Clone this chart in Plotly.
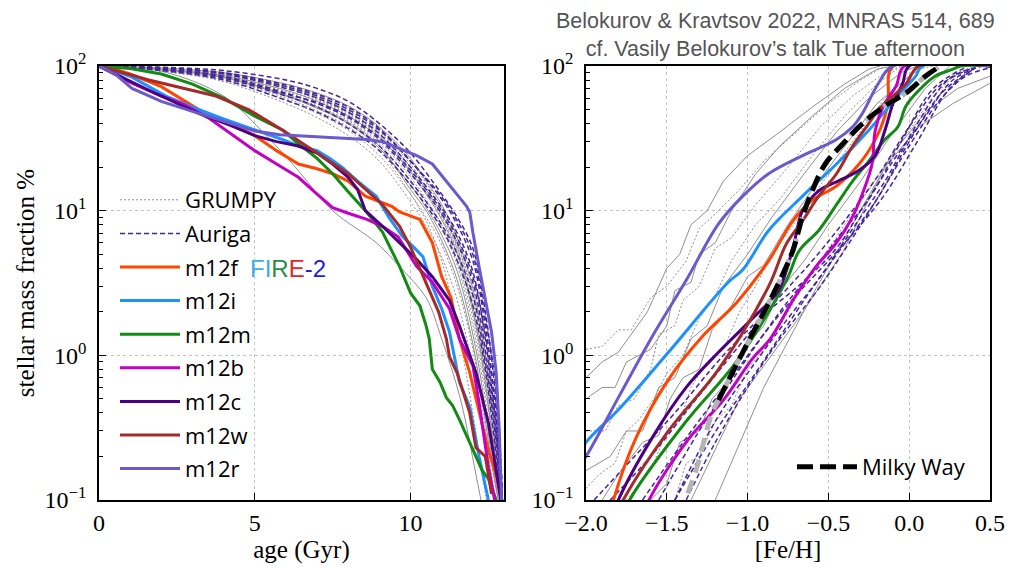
import plotly.graph_objects as go

# ---------------------------------------------------------------------------
# Cumulative stellar mass fraction (%) versus stellar age (Gyr)
# ---------------------------------------------------------------------------
age_m12f = [0, 0.5, 1, 2, 3.2, 4, 5.0, 5.7, 6.4, 7.0, 7.5, 8.0, 8.55, 9.0, 9.4, 9.65, 10.0, 10.3, 10.7, 11.0, 11.3, 11.57, 11.9, 12.1, 12.3, 12.5, 12.75, 12.9]
val_m12f = [100, 95, 88, 72, 50, 42, 33, 26, 21, 19.5, 18, 16, 12.6, 11.5, 10.7, 9.8, 9.2, 8.7, 6.0, 3.5, 2.5, 1.3, 0.76, 0.5, 0.34, 0.22, 0.15, 0.1]

age_m12i = [0, 1, 2.15, 3, 4, 5.0, 5.9, 6.4, 7.0, 7.4, 7.8, 8.3, 8.9, 9.3, 9.75, 10.1, 10.4, 10.7, 11.0, 11.25, 11.57, 11.9, 12.2, 12.5]
val_m12i = [100, 85, 62, 52, 43, 36, 31, 28, 26, 23, 20, 16, 12.6, 9, 6.6, 5.6, 4.8, 3.0, 2.1, 1.45, 0.65, 0.44, 0.2, 0.1]

age_m12m = [0, 1, 2, 3, 4, 5.0, 5.9, 6.4, 7.0, 7.5, 8.0, 8.55, 9.1, 9.65, 10.0, 10.3, 10.5, 10.6, 10.7, 10.95, 11.15, 11.35, 11.57, 11.8, 12.0, 12.3, 12.5, 12.75]
val_m12m = [100, 96, 88, 75, 60, 45, 36, 29, 23, 18, 13.5, 10, 7.1, 4.1, 2.7, 2.2, 1.6, 1.3, 0.8, 0.65, 0.51, 0.45, 0.36, 0.28, 0.22, 0.16, 0.14, 0.1]

age_m12b = [0, 1.06, 2, 2.66, 3.5, 4.3, 5.0, 5.7, 6.4, 7.0, 7.5, 8.0, 8.6, 9.1, 9.6, 10.2, 10.7, 11.25, 11.57, 12.0, 12.2, 12.5, 12.7]
val_m12b = [100, 76, 62, 55, 44, 33, 26, 21, 17, 13, 10.5, 9.6, 8.7, 7.8, 6.6, 4.1, 3.2, 2.1, 1.3, 0.85, 0.47, 0.17, 0.1]

age_m12c = [0, 1.6, 3.2, 4.2, 5.0, 5.7, 6.4, 7.0, 7.5, 8.0, 8.3, 8.55, 9.1, 9.65, 10.2, 10.7, 11.25, 11.57, 11.9, 12.1, 12.5, 12.9]
val_m12c = [100, 68, 47, 39, 33, 30, 28, 25, 21, 17, 14, 10, 7.8, 6.0, 4.6, 3.5, 2.4, 1.6, 1.0, 0.76, 0.34, 0.1]

age_m12w = [0, 1.6, 3.75, 4.8, 5.9, 7.0, 8.0, 9.1, 9.65, 10.0, 10.5, 10.9, 11.15, 11.25, 11.5, 11.9, 12.1, 12.4, 12.6]
val_m12w = [100, 80, 62, 50, 36, 25, 18, 11, 7.8, 5.6, 3.2, 2.0, 1.3, 0.98, 0.75, 0.40, 0.23, 0.2, 0.11]

age_m12r = [0, 0.55, 1.06, 2, 3.2, 4.2, 5.0, 5.8, 6.4, 7.5, 8.6, 9.1, 9.6, 10.2, 10.7, 11.2, 11.5, 11.8, 11.9, 12.0, 12.2, 12.4, 12.6, 12.75, 12.85, 12.92]
val_m12r = [100, 87, 70, 57, 47, 40, 35.5, 33.5, 33, 32, 31, 30, 27, 24, 21, 15.5, 13, 10.7, 9.8, 7.1, 4.1, 2.5, 1.45, 0.76, 0.3, 0.1]

# Auriga haloes, sampled on a common age grid
age_auriga = [0, 2, 4, 6, 7, 8, 9, 10, 11, 11.5, 12, 12.4, 12.7, 12.95]
val_auriga = [
    [100, 98, 93, 80, 70, 57, 40, 25, 13, 9, 5.5, 2.0, 0.6, 0.1],
    [100, 97, 90, 74, 64, 52, 37, 22, 12, 8, 4.5, 1.6, 0.5, 0.1],
    [100, 96, 88, 70, 60, 48, 34, 20, 10.5, 7, 3.8, 1.3, 0.4, 0.1],
    [100, 95, 85, 65, 55, 44, 31, 18, 9.5, 6, 3.2, 1.1, 0.35, 0.09],
    [100, 94, 82, 62, 52, 40, 28, 16, 8, 5, 2.6, 0.9, 0.3, 0.08],
    [100, 97, 89, 72, 62, 50, 36, 22, 12.5, 8.5, 5, 1.8, 0.7, 0.12],
    [100, 93, 80, 58, 48, 37, 26, 15, 7.5, 4.5, 2.2, 0.8, 0.25, 0.08],
    [100, 95, 84, 64, 56, 45, 32, 19, 10, 6.5, 3.5, 1.4, 0.45, 0.1],
]

# GRUMPY model galaxies, sampled on a common age grid
age_grumpy = [0, 2, 4, 6, 7, 8, 9, 10, 10.5, 11, 11.5, 12, 12.3, 12.6, 12.9]
val_grumpy = [
    [100, 95, 85, 66, 55, 43, 30, 17, 12, 8, 4.5, 1.8, 0.8, 0.3, 0.1],
    [100, 96, 87, 70, 59, 47, 33, 19, 13.5, 9, 5.2, 2.2, 1.0, 0.35, 0.1],
    [100, 94, 83, 62, 51, 40, 27, 15, 10.5, 6.8, 3.8, 1.4, 0.6, 0.2, 0.08],
    [100, 97, 89, 73, 63, 51, 37, 22, 15.5, 10.5, 6, 2.6, 1.2, 0.45, 0.12],
    [100, 93, 80, 58, 47, 36, 24, 13, 9, 5.8, 3.0, 1.1, 0.45, 0.15, 0.07],
    [100, 95, 86, 68, 57, 45, 32, 18.5, 13, 8.7, 5, 2.0, 0.9, 0.3, 0.1],
    [100, 96, 88, 72, 61, 49, 35, 21, 14.5, 9.8, 5.6, 2.4, 1.1, 0.4, 0.11],
    [100, 92, 78, 55, 44, 33, 22, 11.5, 7.8, 4.8, 2.4, 0.8, 0.3, 0.12, 0.06],
    [100, 97, 90, 75, 65, 53, 38, 23, 16, 11, 6.5, 2.9, 1.4, 0.5, 0.15],
    [100, 94, 84, 64, 53, 42, 29, 16, 11.5, 7.5, 4.2, 1.6, 0.7, 0.25, 0.09],
    [100, 93, 81, 60, 49, 38, 26, 13, 8.5, 4.5, 1.6, 0.4, 0.15, 0.07, 0.05],
    [100, 96, 86, 67, 58, 46, 33, 20, 14, 9.5, 5.8, 2.7, 1.3, 0.55, 0.2],
    [100, 95, 84, 63, 52, 41, 28, 14, 10, 6.2, 3.3, 1.2, 0.5, 0.18, 0.08],
    [100, 97, 88, 71, 60, 48, 34, 20, 14, 9.3, 5.4, 2.1, 0.95, 0.33, 0.1],
]
style_grumpy = ["dot", "dot", "solid", "dot", "dot", "solid", "dot", "dot", "solid", "dot", "dot", "dot", "solid", "dot"]

# one GRUMPY system quenching early
age_grumpy_q = [0, 2, 4, 5.2, 6.3, 7.5, 8.9, 9.65, 10.5, 11.0, 11.6, 12.1, 12.4]
val_grumpy_q = [100, 92, 62, 36, 20, 10, 6, 4.1, 2.5, 1.3, 0.5, 0.15, 0.07]

# ---------------------------------------------------------------------------
# Cumulative stellar mass fraction (%) versus metallicity [Fe/H]
# ---------------------------------------------------------------------------
feh_m12r = [-2.1, -2.0, -1.8, -1.59, -1.38, -1.18, -1.03, -0.87, -0.66, -0.45, -0.35, -0.29, -0.19, -0.10, 0.5]
fv_m12r = [0.14, 0.2, 0.51, 1.35, 3.3, 8.1, 12.6, 18, 24, 31, 38, 47, 76, 100, 100]

feh_m12i = [-2.1, -2.0, -1.8, -1.49, -1.12, -1.03, -0.87, -0.66, -0.45, -0.25, -0.07, 0.04, 0.08, 0.5]
fv_m12i = [0.16, 0.25, 0.42, 1.05, 3.2, 3.9, 7.3, 12.6, 21, 36, 62, 85, 100, 100]

feh_m12f = [-1.85, -1.83, -1.69, -1.49, -1.28, -1.07, -0.87, -0.72, -0.60, -0.45, -0.31, -0.21, -0.15, -0.13, -0.10, 0.5]
fv_m12f = [0.08, 0.1, 0.27, 0.68, 1.35, 2.3, 4.5, 8.5, 11.8, 14.8, 21, 31, 45, 58, 100, 100]

feh_m12c = [-1.85, -1.80, -1.59, -1.38, -1.18, -0.97, -0.81, -0.72, -0.66, -0.56, -0.44, -0.31, -0.21, -0.15, -0.10, -0.04, 0.0, 0.5]
fv_m12c = [0.07, 0.1, 0.27, 0.6, 1.05, 1.8, 2.8, 5.5, 10, 13.7, 16, 19, 24, 36, 55, 76, 100, 100]

feh_m12w = [-1.85, -1.77, -1.49, -1.18, -0.87, -0.76, -0.66, -0.56, -0.45, -0.35, -0.25, -0.19, -0.10, -0.02, 0.06, 0.5]
fv_m12w = [0.065, 0.1, 0.3, 0.8, 3.0, 5.9, 8.5, 12.6, 18, 28, 40, 50, 62, 75, 100, 100]

feh_m12m = [-1.8, -1.73, -1.38, -1.07, -0.76, -0.68, -0.56, -0.45, -0.35, -0.25, -0.15, -0.07, -0.02, 0.06, 0.16, 0.27, 0.32, 0.5]
fv_m12m = [0.065, 0.1, 0.35, 0.9, 3.3, 5.3, 7.3, 11, 16, 22, 31, 38, 53, 68, 85, 95, 100, 100]

feh_m12b = [-1.66, -1.61, -1.37, -1.15, -0.97, -0.86, -0.71, -0.57, -0.45, -0.35, -0.27, -0.23, -0.21, -0.16, -0.08, -0.03, 0.5]
fv_m12b = [0.07, 0.1, 0.26, 0.49, 0.95, 1.3, 2.5, 4.2, 6.0, 9.1, 15, 21, 36, 53, 73, 100, 100]

# Milky Way metallicity distribution (two overlapping estimates)
feh_mw = [-1.18, -1.03, -0.87, -0.80, -0.72, -0.66, -0.60, -0.52, -0.41, -0.29, -0.15, -0.02, 0.10, 0.18]
fv_mw = [0.49, 1.05, 2.3, 3.3, 5.3, 9.1, 13.7, 21, 29, 40, 53, 65, 85, 98]
feh_mw_alt = [-1.42, -1.32, -1.22, -1.18, -1.03, -0.87, -0.80, -0.72, -0.66, -0.60, -0.52, -0.41, -0.29, -0.15, -0.02, 0.10, 0.18]
fv_mw_alt = [0.08, 0.16, 0.40, 0.49, 1.05, 2.3, 3.3, 5.3, 9.1, 13.7, 21, 29, 40, 53, 65, 85, 98]

# Auriga haloes in [Fe/H]
feh_auriga = [
    [-1.95, -1.7, -1.45, -1.15, -0.9, -0.66, -0.45, -0.3, -0.1, 0.1, 0.27, 0.45],
    [-1.65, -1.4, -1.1, -0.9, -0.7, -0.5, -0.3, -0.15, 0.05, 0.25, 0.4],
    [-1.38, -1.2, -1.0, -0.8, -0.55, -0.35, -0.2, 0.0, 0.2, 0.35, 0.5],
    [-1.45, -1.18, -1.02, -0.81, -0.61, -0.42, -0.2, 0.0, 0.2, 0.4],
    [-1.85, -1.6, -1.35, -1.1, -0.85, -0.6, -0.4, -0.2, 0.0, 0.2, 0.4],
    [-1.55, -1.3, -1.05, -0.8, -0.6, -0.42, -0.25, -0.05, 0.15, 0.35],
    [-1.45, -1.2, -0.95, -0.75, -0.55, -0.35, -0.15, 0.05, 0.25, 0.45],
]
fv_auriga = [
    [0.1, 0.2, 0.4, 1.0, 1.9, 3.2, 5.5, 10, 22, 45, 80, 100],
    [0.1, 0.25, 0.7, 1.4, 2.6, 4.5, 8, 13, 30, 70, 95],
    [0.1, 0.25, 0.6, 1.3, 3.0, 6.5, 12, 28, 60, 85, 97],
    [0.1, 0.32, 0.58, 1.3, 2.8, 5.5, 12, 30, 65, 95],
    [0.1, 0.2, 0.45, 1.0, 2.2, 4.5, 8.5, 17, 38, 75, 97],
    [0.1, 0.3, 0.8, 2.0, 3.8, 7, 12, 30, 70, 98],
    [0.1, 0.35, 0.9, 1.8, 3.5, 7.5, 16, 40, 82, 100],
]

# GRUMPY galaxies in [Fe/H]
feh_grumpy = [
    [-1.35, -1.05, -0.67, -0.41, -0.15, 0.06, 0.27, 0.5],
    [-1.2, -0.9, -0.6, -0.35, -0.1, 0.1, 0.3, 0.5],
    [-2.0, -1.9, -1.82, -1.75, -1.6, -1.5, -1.45, -1.35, -1.3, -1.2, -1.1, -0.95, -0.8, -0.6, -0.4, -0.2, -0.1],
    [-2.0, -1.9, -1.8, -1.72, -1.6, -1.5, -1.38, -1.3, -1.2, -1.05, -0.9, -0.7, -0.5, -0.3, -0.15],
    [-2.0, -1.85, -1.75, -1.65, -1.55, -1.45, -1.35, -1.25, -1.15, -1.0, -0.85, -0.65, -0.45, -0.25, -0.05, 0.05],
    [-2.0, -1.88, -1.8, -1.7, -1.6, -1.55, -1.45, -1.4, -1.3, -1.2, -1.1, -0.95, -0.75, -0.55, -0.35, -0.15, -0.05],
    [-1.9, -1.8, -1.65, -1.55, -1.48, -1.4, -1.3, -1.22, -1.1, -1.0, -0.9, -0.75, -0.6, -0.4, -0.2, 0.0, 0.1],
    [-1.75, -1.6, -1.5, -1.42, -1.35, -1.25, -1.15, -1.05, -0.95, -0.85, -0.7, -0.55, -0.35, -0.15, 0.05, 0.15],
    [-1.6, -1.5, -1.42, -1.3, -1.22, -1.1, -1.0, -0.9, -0.8, -0.65, -0.5, -0.3, -0.1, 0.1, 0.25],
    [-1.45, -1.38, -1.3, -1.2, -1.1, -1.0, -0.9, -0.8, -0.7, -0.55, -0.4, -0.25, -0.05, 0.15, 0.3, 0.4],
    [-2.0, -1.9, -1.8, -1.72, -1.62, -1.5, -1.42, -1.35, -1.25, -1.15, -1.0, -0.8, -0.6, -0.4, -0.25, -0.18],
    [-2.0, -1.92, -1.82, -1.75, -1.68, -1.58, -1.5, -1.4, -1.3, -1.2, -1.1, -0.95, -0.8, -0.6, -0.4, -0.2, -0.05],
]
fv_grumpy = [
    [0.1, 0.5, 1.9, 5.2, 20, 38, 55, 76],
    [0.1, 0.6, 2.6, 8, 25, 48, 70, 85],
    [0.5, 0.6, 0.6, 0.9, 1.1, 1.6, 2.8, 3.2, 5, 6, 10, 18, 28, 45, 70, 95, 100],
    [1.1, 1.15, 1.5, 1.5, 2.5, 3.0, 4.5, 7.5, 9.5, 14, 22, 35, 55, 80, 100],
    [0.16, 0.2, 0.3, 0.3, 0.6, 0.7, 1.3, 1.6, 3.0, 5, 9, 18, 35, 60, 90, 100],
    [0.3, 0.3, 0.45, 0.5, 0.8, 1.4, 1.6, 2.4, 3, 5.5, 6.5, 11, 20, 38, 62, 90, 100],
    [0.1, 0.15, 0.25, 0.28, 0.5, 0.7, 0.8, 1.5, 2.2, 3.5, 4.2, 8, 14, 28, 55, 85, 100],
    [0.1, 0.16, 0.3, 0.35, 0.6, 0.9, 1.1, 2.0, 3, 5, 8.5, 15, 30, 60, 95, 100],
    [0.1, 0.13, 0.25, 0.3, 0.5, 0.7, 1.2, 1.6, 2.8, 4.5, 8, 16, 35, 70, 100],
    [0.1, 0.18, 0.2, 0.35, 0.45, 0.8, 1.1, 1.6, 2.5, 4.5, 8, 14, 30, 62, 90, 100],
    [0.7, 0.9, 1.05, 1.4, 2.0, 4, 5, 8, 10, 16, 24, 35, 52, 75, 95, 100],
    [0.12, 0.15, 0.18, 0.3, 0.35, 0.5, 0.75, 1.0, 1.8, 2.6, 4.5, 8, 12, 24, 45, 75, 100],
]
style_grumpy_feh = ["solid", "solid", "solid", "dot", "solid", "dot", "solid", "dot", "solid", "dot", "solid", "dot"]

# log-axis ticks
y_tickvals = [0.1, 1, 10, 100]
y_ticktext = ["10<sup>−1</sup>", "10<sup>0</sup>", "10<sup>1</sup>", "10<sup>2</sup>"]
y_minor = [0.2, 0.3, 0.4, 0.5, 0.6, 0.7, 0.8, 0.9, 2, 3, 4, 5, 6, 7, 8, 9, 20, 30, 40, 50, 60, 70, 80, 90]

# ---------------------------------------------------------------------------
fire_names = ["m12f", "m12i", "m12m", "m12b", "m12c", "m12w", "m12r"]
fire_colors = ["#ff4500", "#1e90ff", "#138a13", "#c400c4", "#4b0082", "#a52a2a", "#6a5acd"]
fire_age = [(age_m12f, val_m12f), (age_m12i, val_m12i), (age_m12m, val_m12m), (age_m12b, val_m12b),
            (age_m12c, val_m12c), (age_m12w, val_m12w), (age_m12r, val_m12r)]
fire_feh = [(feh_m12f, fv_m12f), (feh_m12i, fv_m12i), (feh_m12m, fv_m12m), (feh_m12b, fv_m12b),
            (feh_m12c, fv_m12c), (feh_m12w, fv_m12w), (feh_m12r, fv_m12r)]

GREY = "#8f8f8f"
AURIGA = "#45259a"
SERIF = "Liberation Serif"
SANS = "Open Sans"

W, H = 1010, 568
ML, MR, MT, MB = 99, 20, 66, 68
PW, PH = W - ML - MR, H - MT - MB


def px_x(x):
    return (x - ML) / PW


def px_y(y):
    return (H - MB - y) / PH


fig = go.Figure()

# GRUMPY
for i, v in enumerate(val_grumpy):
    fig.add_trace(go.Scatter(x=age_grumpy, y=v, mode="lines", line_shape="spline",
                             line=dict(color=GREY, width=1, dash="2px,2px" if style_grumpy[i] == "dot" else "solid"),
                             name="GRUMPY", legendgroup="GRUMPY", showlegend=(i == 0),
                             xaxis="x", yaxis="y"))
fig.add_trace(go.Scatter(x=age_grumpy_q, y=val_grumpy_q, mode="lines", line_shape="spline",
                         line=dict(color=GREY, width=1), legendgroup="GRUMPY", showlegend=False,
                         xaxis="x", yaxis="y"))
for i, (fx, fv) in enumerate(zip(feh_grumpy, fv_grumpy)):
    fig.add_trace(go.Scatter(x=fx, y=fv, mode="lines",
                             line=dict(color=GREY, width=1, dash="2px,2px" if style_grumpy_feh[i] == "dot" else "solid"),
                             legendgroup="GRUMPY", showlegend=False, xaxis="x2", yaxis="y2"))

# Auriga
for i, v in enumerate(val_auriga):
    fig.add_trace(go.Scatter(x=age_auriga, y=v, mode="lines", line_shape="spline",
                             line=dict(color=AURIGA, width=1.5, dash="5px,3px"),
                             name="Auriga", legendgroup="Auriga", showlegend=(i == 0),
                             xaxis="x", yaxis="y"))
for fx, fv in zip(feh_auriga, fv_auriga):
    fig.add_trace(go.Scatter(x=fx, y=fv, mode="lines", line_shape="spline",
                             line=dict(color=AURIGA, width=1.5, dash="5px,3px"),
                             legendgroup="Auriga", showlegend=False, xaxis="x2", yaxis="y2"))

# FIRE-2 haloes
for name, col, (ax_, av), (fx, fv) in zip(fire_names, fire_colors, fire_age, fire_feh):
    fig.add_trace(go.Scatter(x=ax_, y=av, mode="lines", line=dict(color=col, width=3),
                             name=name, legendgroup=name, xaxis="x", yaxis="y"))
    fig.add_trace(go.Scatter(x=fx, y=fv, mode="lines", line_shape="spline", line=dict(color=col, width=3),
                             legendgroup=name, showlegend=False, xaxis="x2", yaxis="y2"))

# Milky Way
fig.add_trace(go.Scatter(x=feh_mw_alt, y=fv_mw_alt, mode="lines", line_shape="spline",
                         line=dict(color="#b4b4b4", width=5, dash="14px,8px"),
                         showlegend=False, xaxis="x2", yaxis="y2"))
fig.add_trace(go.Scatter(x=feh_mw, y=fv_mw, mode="lines", line_shape="spline",
                         line=dict(color="black", width=5, dash="16px,7px"),
                         name="Milky Way", legend="legend2", xaxis="x2", yaxis="y2"))

common_axis = dict(showline=True, linecolor="black", linewidth=1.5, mirror=True, automargin=False,
                   ticks="inside", ticklen=7, tickwidth=1.2, tickcolor="black",
                   showgrid=True, gridcolor="#c4c4c4", griddash="dot", gridwidth=1,
                   zeroline=False, tickfont=dict(family=SERIF, size=24, color="black"))
log_axis = dict(common_axis, type="log", range=[-1, 2], tickmode="array",
                tickvals=y_tickvals, ticktext=y_ticktext, ticklabelstandoff=6,
                minor=dict(tickmode="array", tickvals=y_minor, ticks="inside", ticklen=4,
                           tickcolor="black", showgrid=False))
title_font = dict(family=SERIF, size=25, color="black")

fig.update_layout(
    width=W, height=H,
    margin=dict(l=ML, r=MR, t=MT, b=MB),
    paper_bgcolor="white", plot_bgcolor="white",
    xaxis=dict(common_axis, domain=[0, px_x(504)], range=[0, 13], dtick=5, anchor="y",
               title=dict(text="age (Gyr)", font=title_font, standoff=4)),
    yaxis=dict(log_axis, domain=[0, 1], anchor="x",
               title=dict(text="stellar mass fraction %", font=title_font, standoff=3)),
    xaxis2=dict(common_axis, domain=[px_x(586), 1], range=[-2, 0.5], dtick=0.5, tickformat=".1f",
                anchor="y2", title=dict(text="[Fe/H]", font=title_font, standoff=4)),
    yaxis2=dict(log_axis, domain=[0, 1], anchor="x2"),
    legend=dict(x=px_x(115), y=px_y(179), xanchor="left", yanchor="top",
                bgcolor="rgba(0,0,0,0)", font=dict(family=SANS, size=22, color="black"),
                tracegroupgap=2, itemwidth=60, traceorder="grouped"),
    legend2=dict(x=px_x(792), y=px_y(467), xanchor="left", yanchor="middle",
                 bgcolor="rgba(0,0,0,0)", font=dict(family=SANS, size=22, color="black"),
                 itemwidth=60),
    annotations=[
        dict(text="Belokurov &amp; Kravtsov 2022, MNRAS 514, 689<br>cf. Vasily Belokurov’s talk Tue afternoon",
             x=px_x(775), y=px_y(7), xref="paper", yref="paper", xanchor="center", yanchor="top",
             showarrow=False, align="center",
             font=dict(family="Liberation Sans", size=21.5, color="#555555")),
        dict(text="<span style='color:#3aaee6'>FI</span><span style='color:#2e8b48'>R</span>"
                  "<span style='color:#e3262b'>E</span><span style='color:#1c1cdc'>-2</span>",
             x=px_x(248), y=px_y(268), xref="paper", yref="paper", xanchor="left", yanchor="middle",
             showarrow=False, font=dict(family="Liberation Sans", size=24)),
    ],
)

fig.write_html("out.html")
